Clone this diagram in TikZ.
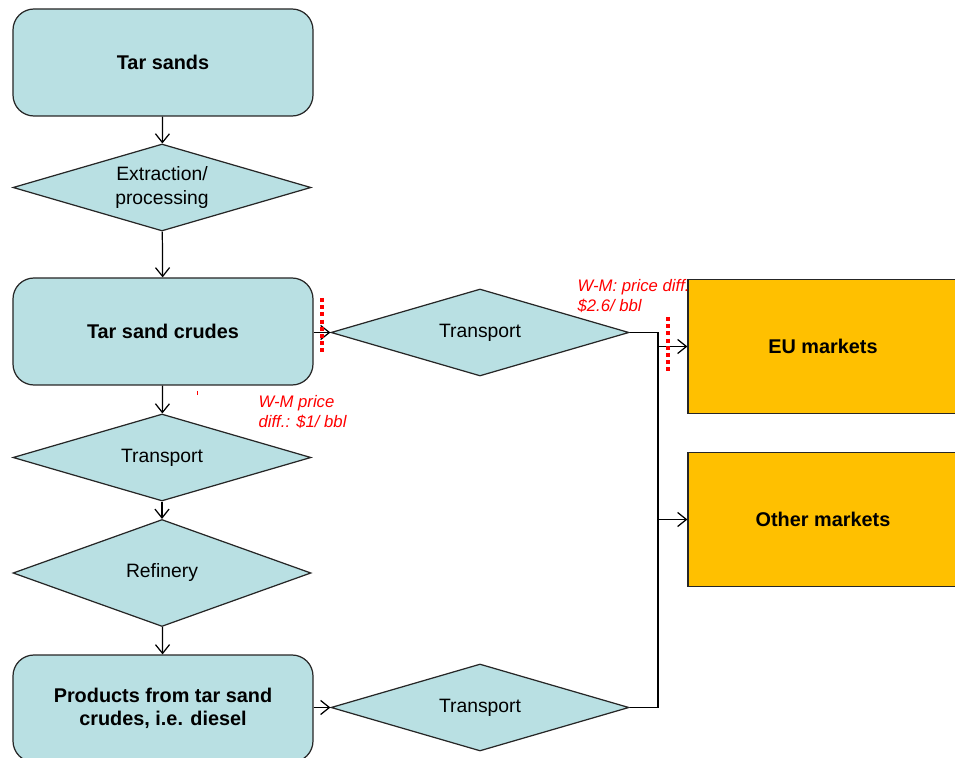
\documentclass[tikz,border=0pt]{standalone}
\usepackage{fontspec}
\setmainfont{Liberation Sans}
\usetikzlibrary{shapes.geometric,arrows.meta}
\definecolor{boxcyan}{RGB}{185,224,227}
\definecolor{boxorange}{RGB}{255,192,0}
\definecolor{notered}{RGB}{255,0,0}
\tikzset{
  stagebox/.style={draw=black!85, fill=boxcyan, rounded corners=0.42cm,
    minimum width=6cm, minimum height=2.14cm, line width=0.7pt,
    font=\fontsize{11.3}{13}\selectfont\bfseries, align=center},
  stepdiamond/.style={diamond, draw=black!85, fill=boxcyan, aspect=3.4,
    minimum width=5.96cm, minimum height=1.74cm, inner sep=0pt, line width=0.7pt,
    font=\fontsize{11}{13.5}\selectfont, align=center},
  marketbox/.style={draw=black!85, fill=boxorange, minimum width=5.4cm,
    minimum height=2.68cm, line width=0.7pt,
    font=\fontsize{11.3}{13}\selectfont\bfseries},
  pricenote/.style={text=notered, font=\fontsize{9.5}{11.3}\selectfont\itshape,
    align=left, inner sep=0pt, anchor=north west},
  reddots/.style={draw=notered, line width=2.3pt, dash pattern=on 2.3pt off 1.8pt},
}
\begin{document}
\begin{tikzpicture}[>={Straight Barb[length=5pt,width=8pt]}, line width=0.7pt] %[scale=0.8]
    \useasboundingbox (0,0) rectangle (19.1,-15.16);
    \clip (0,0) rectangle (19.1,-15.16);
    % chain on the left
    \node [stagebox] (sands) at (3.26,-1.25) {Tar sands};
    \node [stepdiamond] (extract) at (3.24,-3.75) {Extraction/\\processing};
    \node [stagebox] (crudes) at (3.26,-6.63) {Tar sand crudes};
    \node [stepdiamond] (pipe) at (3.24,-9.15) {Transport};
    \node [stepdiamond, minimum height=2.14cm] (refinery) at (3.24,-11.46) {Refinery};
    \node [stagebox] (products) at (3.26,-14.17) {Products from tar sand\\crudes, i.e. diesel};
    % transport to markets
    \node [stepdiamond] (shipcrude) at (9.60,-6.65) {Transport};
    \node [stepdiamond] (shipprod) at (9.60,-14.15) {Transport};
    \node [marketbox] (eu) at (16.46,-6.93) {EU markets};
    \node [marketbox] (other) at (16.46,-10.39) {Other markets};
    \coordinate (jtop) at (13.16,-6.65);
    \coordinate (jbot) at (13.16,-14.15);
    \draw [->] (sands) --  (extract);
    \draw [->] (extract) --  (crudes);
    \draw [->] (crudes) --  (pipe);
    \draw [->] (pipe) --  (refinery);
    \draw [->] (refinery) --  (products);
    \draw [->] (crudes.east |- shipcrude.west) --  (shipcrude.west);
    \draw [->] (products.east |- shipprod.west) --  (shipprod.west);
    \draw (shipcrude.east) -- (jtop) -- (jbot) -- (shipprod.east);
    \draw [->] (jtop |- eu.west) --  (eu.west);
    \draw [->] (jtop |- other.west) --  (other.west);
    % price differences
    \draw [reddots] (6.44,-5.96) -- (6.44,-7.10);
    \draw [reddots] (13.36,-6.34) -- (13.36,-7.46);
    \draw [notered, line width=0.4pt] (3.94,-7.82) -- (3.94,-7.90);
    \node [pricenote] (diffeu) at (11.54,-5.58) {W-M: price diff.\\\$2.6/ bbl};
    \node [pricenote] (diffus) at (5.16,-7.90) {W-M price\\diff.: \$1/ bbl};
  \end{tikzpicture}
\end{document}
